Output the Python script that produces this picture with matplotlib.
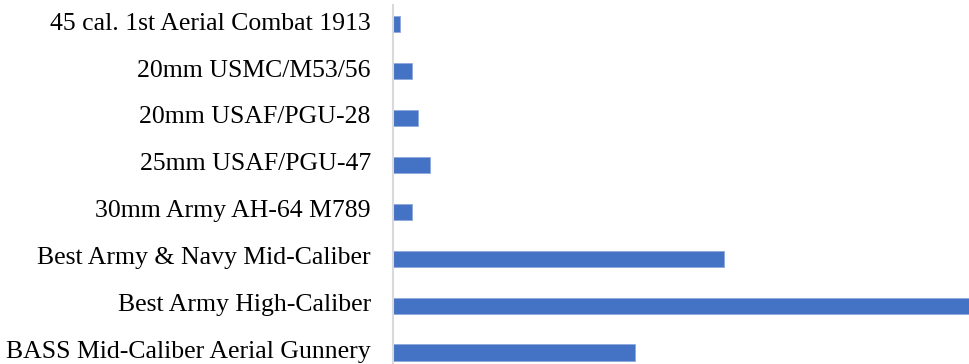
import matplotlib
matplotlib.use('Agg')
import matplotlib.pyplot as plt
import matplotlib.transforms as mtransforms

CATEGORIES = [
    "45 cal. 1st Aerial Combat 1913",
    "20mm USMC/M53/56",
    "20mm USAF/PGU-28",
    "25mm USAF/PGU-47",
    "30mm Army AH-64 M789",
    "Best Army & Navy Mid-Caliber",
    "Best Army High-Caliber",
    "BASS Mid-Caliber Aerial Gunnery",
]
VALUES = [7, 19, 25, 37, 19, 330, 580, 242]

BAR_COLOR = "#4472C4"
AXIS_COLOR = "#d9d9d9"

plt.rcParams['font.family'] = ['Liberation Serif', 'DejaVu Serif']

fig = plt.figure(figsize=(9.69, 3.64), dpi=100)
ax = fig.add_axes([393 / 969, 0, 1 - 393 / 969, 359 / 364])

ypos = list(range(len(CATEGORIES)))
ax.barh(ypos, VALUES, height=0.35, color=BAR_COLOR, edgecolor="#8fa9dc", linewidth=0.6)

ax.set_yticks(ypos)
ax.set_yticklabels(CATEGORIES, fontsize=18.5)
ax.tick_params(axis='y', length=0, pad=16)
ax.set_xticks([])
ax.set_ylim(7.24, -0.40)
ax.set_xlim(0, 575)

# nudge the labels up a little so the last one clears the bottom edge
shift = mtransforms.ScaledTranslation(0, 2 / 72, fig.dpi_scale_trans)
for lbl in ax.get_yticklabels():
    lbl.set_transform(lbl.get_transform() + shift)

for side in ("top", "right", "bottom"):
    ax.spines[side].set_visible(False)
ax.spines["left"].set_color(AXIS_COLOR)
ax.spines["left"].set_linewidth(1.5)

fig.savefig("out.png", dpi=100)
